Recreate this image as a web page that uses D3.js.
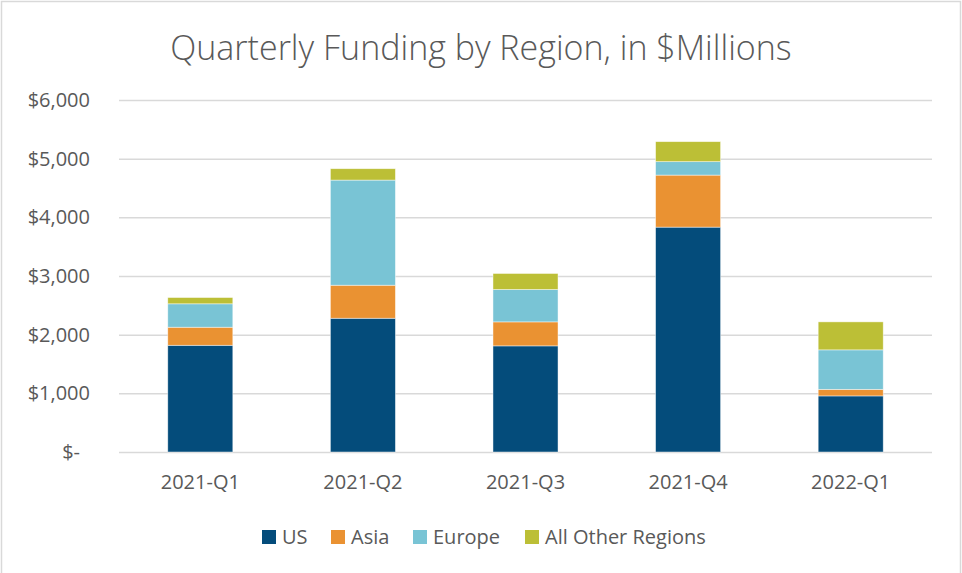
<!DOCTYPE html>
<html lang="en">

<head>
  <meta charset="UTF-8">
  <title>Quarterly Funding by Region</title>
  <script src="https://d3js.org/d3.v7.min.js"></script>
  <style>
    body { margin: 0; background: #fff; }
    text { font-family: "Open Sans", sans-serif; fill: #595959; }
  </style>
</head>

<body>

  <svg width="962" height="573" id="chart"></svg>

  <script>
    // data ($ millions)
    const quarters = ['2021-Q1', '2021-Q2', '2021-Q3', '2021-Q4', '2022-Q1'];
    const regions = ['US', 'Asia', 'Europe', 'All Other Regions'];
    const us = [1819, 2280, 1809, 3833, 956];
    const asia = [308, 563, 409, 887, 112];
    const europe = [399, 1792, 552, 229, 673];
    const other = [107, 194, 273, 341, 477];
    const yTicks = [0, 1000, 2000, 3000, 4000, 5000, 6000];
    const colors = ['#044c7b', '#ea9232', '#79c4d5', '#bcbf36'];

    const rows = quarters.map((q, i) => ({
      quarter: q,
      'US': us[i],
      'Asia': asia[i],
      'Europe': europe[i],
      'All Other Regions': other[i]
    }));

    const svg = d3.select('#chart');
    const width = +svg.attr('width');
    const height = +svg.attr('height');
    const margin = { top: 100, right: 30, bottom: 121, left: 119 };
    const innerWidth = width - margin.left - margin.right;
    const innerHeight = height - margin.top - margin.bottom;

    // outer border of the chart area (bottom edge runs off the picture)
    svg.append('path')
      .attr('d', `M1.5,${height} V1.5 H960.5 V${height}`)
      .attr('fill', 'none')
      .attr('stroke', '#d9d9d9')
      .attr('stroke-width', 1.5);

    const x = d3.scaleBand()
      .domain(quarters)
      .range([0, innerWidth])
      .paddingInner(0.6)
      .paddingOuter(0.3);

    const y = d3.scaleLinear()
      .domain([0, 6000])
      .range([innerHeight, 0]);

    const color = d3.scaleOrdinal().domain(regions).range(colors);

    const g = svg.append('g')
      .attr('transform', `translate(${margin.left}, ${margin.top})`);

    // y axis + gridlines
    const yAxis = d3.axisLeft(y)
      .tickValues(yTicks)
      .tickSize(-innerWidth)
      .tickPadding(29)
      .tickFormat(d => d === 0 ? '$-' : '$' + d3.format(',')(d));
    const yg = g.append('g').call(yAxis);
    yg.select('.domain').remove();
    yg.selectAll('.tick line').attr('stroke', '#d9d9d9').attr('stroke-width', 1.5);
    yg.selectAll('.tick text')
      .attr('font-size', 20)
      .attr('fill', '#595959')
      .attr('dx', d => d === 0 ? -10 : 0);

    // stacked bars
    const series = d3.stack().keys(regions)(rows);
    g.append('g').selectAll('g')
      .data(series)
      .join('g')
      .attr('fill', d => color(d.key))
      .selectAll('rect')
      .data(d => d)
      .join('rect')
      .attr('x', d => x(d.data.quarter))
      .attr('width', x.bandwidth())
      .attr('y', d => y(d[1]))
      .attr('height', d => y(d[0]) - y(d[1]))
      .attr('stroke', '#ffffff')
      .attr('stroke-opacity', 0.6)
      .attr('stroke-width', 0.75);

    // x axis labels
    const xAxis = d3.axisBottom(x).tickSize(0).tickPadding(23);
    const xg = g.append('g')
      .attr('transform', `translate(0, ${innerHeight})`)
      .call(xAxis);
    xg.select('.domain').remove();
    xg.selectAll('.tick text').attr('font-size', 20).attr('fill', '#595959');

    // title
    svg.append('text')
      .text('Quarterly Funding by Region, in $Millions')
      .attr('x', 481)
      .attr('y', 60)
      .attr('text-anchor', 'middle')
      .attr('font-size', 34)
      .attr('font-weight', 300);

    // legend
    const legendX = [262, 331, 413, 525];
    const legend = svg.append('g').selectAll('g')
      .data(regions)
      .join('g')
      .attr('transform', (d, i) => `translate(${legendX[i]}, 530)`);
    legend.append('rect')
      .attr('width', 14).attr('height', 14)
      .attr('fill', d => color(d));
    legend.append('text')
      .attr('x', 20)
      .attr('y', 7)
      .attr('dy', '0.35em')
      .attr('font-size', 20)
      .text(d => d);
  </script>
</body>

</html>
